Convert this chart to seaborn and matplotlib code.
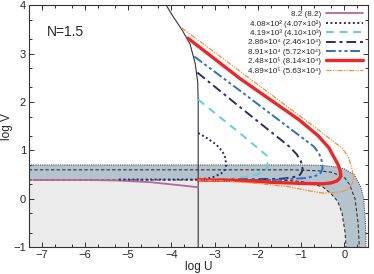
import numpy as np
import pandas as pd
import matplotlib
matplotlib.use("Agg")
import matplotlib.pyplot as plt
import seaborn as sns
from matplotlib.ticker import FixedLocator

# ---------------- data (log U, log V) ----------------
labels = ["8.2 (8.2)",
          "4.08×10² (4.07×10²)",
          "4.19×10³ (4.10×10³)",
          "2.86×10⁴ (2.46×10⁴)",
          "8.91×10⁴ (5.72×10⁴)",
          "2.48×10⁵ (8.14×10⁴)",
          "4.89×10⁵ (5.63×10⁴)"]

purple_u = [-7.2, -6.5, -6.0, -5.26, -4.49, -3.9, -3.38]
purple_v = [0.39, 0.39, 0.39, 0.38, 0.345, 0.29, 0.24]

dot_u = [-3.38, -3.15, -2.96, -2.82, -2.76, -2.73, -2.76, -2.84, -3.0, -3.11, -3.38, -4.3, -5.25]
dot_v = [1.36, 1.24, 1.12, 0.98, 0.87, 0.70, 0.60, 0.53, 0.46, 0.43, 0.40, 0.40, 0.40]

cyan_u = [-3.38, -2.42, -1.8, -1.77, -1.85, -2.03, -2.3, -2.65, -3.38]
cyan_v = [2.05, 1.36, 0.90, 0.67, 0.58, 0.50, 0.45, 0.41, 0.39]

navy_u = [-3.40, -2.42, -1.27, -1.1, -1.0, -0.96, -1.02, -1.11, -1.4, -1.65, -2.5, -3.38]
navy_v = [2.61, 1.90, 1.08, 0.92, 0.77, 0.60, 0.50, 0.46, 0.42, 0.41, 0.40, 0.39]

blue_u = [-3.47, -2.42, -0.88, -0.7, -0.58, -0.52, -0.5, -0.55, -0.65, -0.88, -1.3, -1.65, -2.5, -3.38]
blue_v = [2.94, 2.24, 1.20, 1.08, 0.93, 0.78, 0.63, 0.53, 0.48, 0.43, 0.41, 0.39, 0.39, 0.39]

red_u = [-3.62, -2.42, -1.04, -0.6, -0.35, -0.25, -0.15, -0.1, -0.08, -0.1, -0.17, -0.3, -0.5, -1.0, -1.65, -2.42, -3.38]
red_v = [3.32, 2.49, 1.63, 1.30, 1.05, 0.88, 0.72, 0.60, 0.50, 0.43, 0.37, 0.33, 0.31, 0.32, 0.34, 0.38, 0.39]

orange_u = [-3.76, -2.42, -0.65, -0.04, 0.1, 0.17, 0.21, 0.2, 0.13, 0.02, -0.2, -0.5, -0.9, -1.27, -2.03, -2.8, -3.38]
orange_v = [3.53, 2.64, 1.46, 1.04, 0.85, 0.65, 0.48, 0.35, 0.24, 0.17, 0.13, 0.12, 0.18, 0.25, 0.32, 0.37, 0.39]

# black boundary line
black_u = [-4.2, -4.12, -3.95, -3.76, -3.57, -3.45, -3.39, -3.38, -3.38]
black_v = [4.1, 4.0, 3.75, 3.5, 3.2, 2.8, 2.4, 2.0, -1.0]

# band boundaries
upper_u = [-7.3, -1.0, -0.5, -0.2, 0.0, 0.23, 0.38, 0.45, 0.49, 0.5, 0.5]
upper_v = [0.70, 0.70, 0.69, 0.66, 0.62, 0.50, 0.25, 0.0, -0.5, -0.8, -1.0]
middle_u = [-7.3, -1.2, -0.6, -0.3, 0.0, 0.12, 0.25, 0.32, 0.35]
middle_v = [0.60, 0.60, 0.58, 0.55, 0.45, 0.30, 0.0, -0.5, -1.0]
lower_u = [-7.3, -1.5, -1.0, -0.5, -0.3, -0.15, -0.05, 0.02, 0.04]
lower_v = [0.39, 0.39, 0.36, 0.25, 0.10, -0.05, -0.3, -0.7, -1.0]

xlim = (-7.3, 0.55)
ylim = (-1.0, 4.0)

# ---------------- style ----------------
sns.set_style("ticks")
plt.rcParams['font.family'] = ['Liberation Sans', 'DejaVu Sans']
plt.rcParams['xtick.direction'] = 'in'
plt.rcParams['ytick.direction'] = 'in'

fig = plt.figure(figsize=(3.74, 2.74), dpi=100)
ax = fig.add_axes([0.077, 0.0975, 0.907, 0.8835])

# light gray region below the band
light_u = lower_u + [xlim[0]]
light_v = lower_v + [ylim[0]]
ax.fill(light_u, light_v, color="#ebebeb", lw=0, zorder=0)
# band
band_u = upper_u + lower_u[::-1]
band_v = upper_v + lower_v[::-1]
ax.fill(band_u, band_v, color="#b5c3cd", lw=0, zorder=0.5)

ax.plot(upper_u, upper_v, color="#555555", lw=0.8, linestyle=(0, (1, 1)), zorder=1)
ax.plot(middle_u, middle_v, color="#333333", lw=0.8, linestyle=(0, (3, 2)), zorder=1)
ax.plot(lower_u, lower_v, color="#333333", lw=0.8, linestyle=(0, (3, 2)), zorder=1)

series = [
    (purple_u, purple_v, "#b5679b", 1.3, "-"),
    (dot_u, dot_v, "#2b2b6b", 1.4, (0, (1, 1.3))),
    (cyan_u, cyan_v, "#5fcfdf", 1.4, (0, (4, 3))),
    (navy_u, navy_v, "#2a2f5f", 1.4, (0, (5, 2, 1.5, 2))),
    (blue_u, blue_v, "#2f6fc4", 1.4, (0, (5, 1.5, 1.5, 1.5, 1.5, 1.5))),
    (red_u, red_v, "#f02525", 2.4, "-"),
    (orange_u, orange_v, "#f5913a", 0.9, (0, (4, 1, 1, 1, 1, 1))),
]
for (u, v, c, lw, ls), lab in zip(series, labels):
    df = pd.DataFrame({"logU": u, "logV": v})
    sns.lineplot(data=df, x="logU", y="logV", sort=False, estimator=None,
                 color=c, lw=lw, linestyle=ls, label=lab, ax=ax, zorder=3)

sns.lineplot(data=pd.DataFrame({"logU": black_u, "logV": black_v}), x="logU", y="logV",
             sort=False, estimator=None, color="#333333", lw=0.8, ax=ax, zorder=2,
             label="_nolegend_")

ax.set_xlim(*xlim)
ax.set_ylim(*ylim)
ax.set_xticks(range(-7, 1))
ax.set_yticks(range(-1, 5))
xmin = [n + f for n in range(-8, 1) for f in (0.301, 0.699)]
ymin = [n + f for n in range(-1, 4) for f in (0.301, 0.699)]
ax.xaxis.set_minor_locator(FixedLocator(xmin))
ax.yaxis.set_minor_locator(FixedLocator(ymin))
ax.tick_params(which="both", top=True, right=True, direction="in", labelsize=8, width=0.7, color="#333333")
ax.tick_params(which="major", length=3.5, pad=2)
ax.tick_params(which="minor", length=2)
for s in ax.spines.values():
    s.set_linewidth(0.8)
    s.set_color("#333333")

ax.set_xlabel("log U", fontsize=8.5, labelpad=1)
ax.set_ylabel("log V", fontsize=8.5, labelpad=0)
ax.text(-6.88, 3.45, "N=1.5", fontsize=10, va="center", ha="left")

leg = ax.legend(loc="upper right", frameon=False, markerfirst=False, fontsize=5.8,
                handlelength=4.6, labelspacing=0.22, borderaxespad=0.35, handletextpad=0.6,
                borderpad=0.3)

fig.savefig("out.png", dpi=100)
